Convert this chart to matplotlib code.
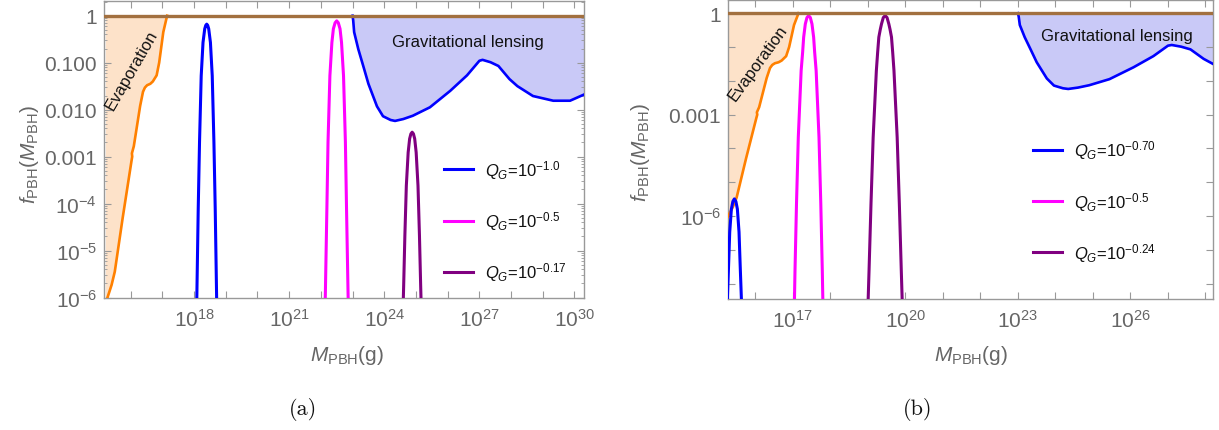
import numpy as np
import matplotlib
matplotlib.use("Agg")
import matplotlib.pyplot as plt
from matplotlib.ticker import FixedLocator, FixedFormatter, NullLocator, LogLocator

plt.rcParams['font.family'] = ['Liberation Sans', 'DejaVu Sans']
plt.rcParams['mathtext.fontset'] = 'custom'
plt.rcParams['mathtext.rm'] = 'Liberation Sans'
plt.rcParams['mathtext.it'] = 'Liberation Sans:italic'
plt.rcParams['mathtext.bf'] = 'Liberation Sans:bold'

# ---------------- data (log10 values) ----------------
# evaporation constraint: log10 M [g], log10 f
evap_logM = [15.20, 15.27, 15.40, 15.50, 15.75, 16.03, 16.05, 16.04, 16.10, 16.30,
             16.39, 16.45, 16.52, 16.62, 16.70, 16.82, 16.90, 16.97, 17.03, 17.15]
evap_logf = [-6.15, -6.0, -5.73, -5.45, -4.3, -3.08, -3.0, -2.93, -2.78, -1.92,
             -1.62, -1.53, -1.48, -1.45, -1.40, -1.27, -1.0, -0.65, -0.35, 0.0]

# gravitational lensing constraint
lens_logM = [23.0, 23.02, 23.05, 23.18, 23.35, 23.5, 23.77, 23.96, 24.2, 24.34,
             24.6, 24.9, 25.44, 26.08, 26.61, 27.0, 27.1, 27.35, 27.6, 27.95,
             28.2, 28.69, 29.33, 29.86, 30.33]
lens_logf = [0.0, -0.1, -0.35, -0.71, -1.1, -1.45, -1.93, -2.14, -2.22, -2.24,
             -2.2, -2.13, -1.95, -1.6, -1.27, -0.96, -0.94, -0.99, -1.07, -1.35,
             -1.5, -1.71, -1.81, -1.81, -1.67]

# panel (a) mass functions
a_blue_logM = [18.08, 18.09, 18.132, 18.173, 18.226, 18.283, 18.337, 18.37, 18.40,
               18.43, 18.463, 18.517, 18.574, 18.627, 18.668, 18.71, 18.72]
a_blue_logf = [-6.3, -5.9, -4.11, -2.69, -1.28, -0.57, -0.28, -0.205, -0.18,
               -0.205, -0.28, -0.57, -1.28, -2.69, -4.11, -5.9, -6.3]
a_mag_logM = [22.13, 22.143, 22.19, 22.226, 22.285, 22.348, 22.395, 22.45, 22.50,
              22.55, 22.605, 22.652, 22.715, 22.774, 22.81, 22.857, 22.87]
a_mag_logf = [-6.3, -5.88, -4.11, -2.69, -1.28, -0.57, -0.28, -0.15, -0.11,
              -0.15, -0.28, -0.57, -1.28, -2.69, -4.11, -5.88, -6.3]
a_pur_logM = [24.59, 24.60, 24.612, 24.65, 24.696, 24.754, 24.80, 24.84, 24.88,
              24.92, 24.96, 25.006, 25.064, 25.11, 25.148, 25.16, 25.17]
a_pur_logf = [-6.3, -6.05, -5.745, -4.68, -3.62, -2.91, -2.62, -2.515, -2.48,
              -2.515, -2.62, -2.91, -3.62, -4.68, -5.745, -6.05, -6.3]

# panel (b) mass functions
b_blue_logM = [15.245, 15.253, 15.285, 15.316, 15.36, 15.40, 15.44,
               15.48, 15.52, 15.564, 15.595, 15.627, 15.635]
b_blue_logf = [-8.7, -8.45, -7.47, -6.47, -5.79, -5.565, -5.49,
               -5.565, -5.79, -6.47, -7.47, -8.45, -8.7]
b_mag_logM = [17.035, 17.042, 17.056, 17.096, 17.144, 17.22, 17.26, 17.287, 17.331, 17.375,
              17.42, 17.465, 17.509, 17.553, 17.58, 17.62, 17.696, 17.744, 17.784, 17.798,
              17.805]
b_mag_logf = [-8.7, -8.45, -7.62, -5.64, -3.67, -1.70, -1.15, -0.71, -0.32, -0.13,
              -0.07, -0.13, -0.32, -0.71, -1.15, -1.70, -3.67, -5.64, -7.62, -8.45,
              -8.7]
b_pur_logM = [19.00, 19.007, 19.03, 19.082, 19.14, 19.225, 19.26, 19.291, 19.33, 19.362,
              19.41, 19.46, 19.51, 19.558, 19.59, 19.629, 19.66, 19.695, 19.78, 19.838,
              19.89, 19.913, 19.92]
b_pur_logf = [-8.7, -8.45, -7.62, -5.64, -3.67, -1.70, -1.15, -0.71, -0.48, -0.32,
              -0.13, -0.07, -0.13, -0.32, -0.48, -0.71, -1.15, -1.70, -3.67, -5.64,
              -7.62, -8.45, -8.7]

a_labels = [r'$Q_G$=10$^{-1.0}$', r'$Q_G$=10$^{-0.5}$', r'$Q_G$=10$^{-0.17}$']
b_labels = [r'$Q_G$=10$^{-0.70}$', r'$Q_G$=10$^{-0.5}$', r'$Q_G$=10$^{-0.24}$']

a_xtick_exp = [18, 21, 24, 27, 30]
a_xtick_lbl = [r'$10^{18}$', r'$10^{21}$', r'$10^{24}$', r'$10^{27}$', r'$10^{30}$']
a_ytick_exp = [0, -1, -2, -3, -4, -5, -6]
a_ytick_lbl = ['1', '0.100', '0.010', '0.001', r'$10^{-4}$', r'$10^{-5}$', r'$10^{-6}$']
b_xtick_exp = [17, 20, 23, 26]
b_xtick_lbl = [r'$10^{17}$', r'$10^{20}$', r'$10^{23}$', r'$10^{26}$']
b_ytick_exp = [0, -3, -6]
b_ytick_lbl = ['1', '0.001', r'$10^{-6}$']

# ---------------- style ----------------
C_BROWN = '#a2703f'
C_ORANGE = '#ff8000'
C_ORANGE_FILL = '#fde2c9'
C_BLUE = '#0000ff'
C_BLUE_FILL = '#c9c9f7'
C_MAG = '#ff00ff'
C_PUR = '#800080'
C_GRAY = '#999999'
C_TXT = '#666666'

W, H = 1219, 431
fig = plt.figure(figsize=(W / 100, H / 100), dpi=100)


def p(v):
    return 10.0 ** np.asarray(v, dtype=float)


def make_panel(rect, xlim, ylim, xmaj, xlab, ymaj, ylab, yminor, peaks, labels,
               leg_anchor, evap_txt, lens_txt, ylab_pos, xlab_pos):
    ax = fig.add_axes(rect)
    ax.set_xscale('log')
    ax.set_yscale('log')
    ax.set_xlim(10 ** xlim[0], 10 ** xlim[1])
    ax.set_ylim(10 ** ylim[0], 10 ** ylim[1])

    ex, ey = p(evap_logM), p(evap_logf)
    lx, ly = p(lens_logM), p(lens_logf)
    ax.fill_between(ex, ey, 1.0, color=C_ORANGE_FILL, lw=0, zorder=1)
    ax.fill_between(lx, ly, 1.0, color=C_BLUE_FILL, lw=0, zorder=1)
    ax.plot(ex, ey, color=C_ORANGE, lw=1.9, zorder=3, solid_joinstyle='round')
    ax.plot(lx, ly, color=C_BLUE, lw=1.9, zorder=3, solid_joinstyle='round')

    handles = []
    for (mx, fy, col), lab in zip(peaks, labels):
        h, = ax.plot(p(mx), p(fy), color=col, lw=2.2, zorder=4, label=lab,
                     solid_joinstyle='round')
        handles.append(h)

    ax.axhline(1.0, color=C_BROWN, lw=2.4, zorder=5)

    # ticks
    xmin_dec = int(np.ceil(xlim[0]))
    xmax_dec = int(np.floor(xlim[1]))
    all_x = [10.0 ** e for e in range(xmin_dec, xmax_dec + 1)]
    ax.xaxis.set_major_locator(FixedLocator(all_x))
    xl = []
    for e in range(xmin_dec, xmax_dec + 1):
        xl.append(xlab[xmaj.index(e)] if e in xmaj else '')
    ax.xaxis.set_major_formatter(FixedFormatter(xl))
    ax.xaxis.set_minor_locator(NullLocator())

    ymin_dec = int(np.ceil(ylim[0]))
    ymax_dec = int(np.floor(ylim[1]))
    all_y = [10.0 ** e for e in range(ymin_dec, ymax_dec + 1)]
    ax.yaxis.set_major_locator(FixedLocator(all_y))
    yl = []
    for e in range(ymin_dec, ymax_dec + 1):
        yl.append(ylab[ymaj.index(e)] if e in ymaj else '')
    ax.yaxis.set_major_formatter(FixedFormatter(yl))
    if yminor:
        ax.yaxis.set_minor_locator(LogLocator(base=10, subs=np.arange(2, 10), numticks=50))
    else:
        ax.yaxis.set_minor_locator(NullLocator())
    ax.yaxis.set_minor_formatter(FixedFormatter([]))

    ax.tick_params(which='both', direction='in', top=True, right=True,
                   color=C_GRAY, labelcolor=C_TXT, labelsize=15)
    ax.tick_params(which='major', length=5, width=0.8)
    ax.tick_params(which='minor', length=2.5, width=0.6)
    ax.tick_params(axis='x', pad=7)
    ax.tick_params(axis='y', pad=5)
    for s in ax.spines.values():
        s.set_color(C_GRAY)
        s.set_linewidth(1.0)

    leg = ax.legend(handles=handles, loc='upper left', bbox_to_anchor=leg_anchor,
                    frameon=False, fontsize=12, handlelength=1.75, handletextpad=0.7,
                    labelspacing=1.7, borderpad=0, borderaxespad=0)
    for t in leg.get_texts():
        t.set_color('#111111')

    ax.text(evap_txt[0], evap_txt[1], 'Evaporation', transform=ax.transAxes,
            rotation=evap_txt[2], ha='center', va='center', fontsize=12,
            color='#111111', zorder=6, rotation_mode='anchor')
    ax.text(lens_txt[0], lens_txt[1], 'Gravitational lensing', transform=ax.transAxes,
            ha='center', va='center', fontsize=12, color='#111111', zorder=6)

    ax.text(ylab_pos[0], ylab_pos[1], r'$f_{\mathrm{PBH}}(M_{\mathrm{PBH}})$',
            transform=ax.transAxes, rotation=90, ha='center', va='center',
            fontsize=15, color=C_TXT)
    ax.text(xlab_pos[0], xlab_pos[1], r'$M_{\mathrm{PBH}}$(g)',
            transform=ax.transAxes, ha='center', va='center',
            fontsize=15, color=C_TXT)
    return ax


def rect_px(x0, y0, x1, y1):
    return [x0 / W, 1 - y1 / H, (x1 - x0) / W, (y1 - y0) / H]


axa = make_panel(rect_px(104, 2, 584, 299), (15.16, 30.30), (-6.01, 0.313),
                 a_xtick_exp, a_xtick_lbl, a_ytick_exp, a_ytick_lbl, True,
                 [(a_blue_logM, a_blue_logf, C_BLUE), (a_mag_logM, a_mag_logf, C_MAG),
                  (a_pur_logM, a_pur_logf, C_PUR)], a_labels,
                 (0.708, 0.472), (0.058, 0.768, 60), (0.758, 0.862),
                 (-0.155, 0.488), (0.506, -0.189))

axb = make_panel(rect_px(728, 1, 1213, 300), (15.27, 28.20), (-8.45, 0.39),
                 b_xtick_exp, b_xtick_lbl, b_ytick_exp, b_ytick_lbl, False,
                 [(b_blue_logM, b_blue_logf, C_BLUE), (b_mag_logM, b_mag_logf, C_MAG),
                  (b_pur_logM, b_pur_logf, C_PUR)], b_labels,
                 (0.629, 0.537), (0.062, 0.793, 54), (0.802, 0.880),
                 (-0.181, 0.492), (0.501, -0.184))

fig.text(303 / W, 1 - 410 / H, '(a)', ha='center', va='center', fontsize=16,
         family='cmr10', color='#111111')
fig.text(918 / W, 1 - 410 / H, '(b)', ha='center', va='center', fontsize=16,
         family='cmr10', color='#111111')

fig.savefig('out.png', dpi=100)
